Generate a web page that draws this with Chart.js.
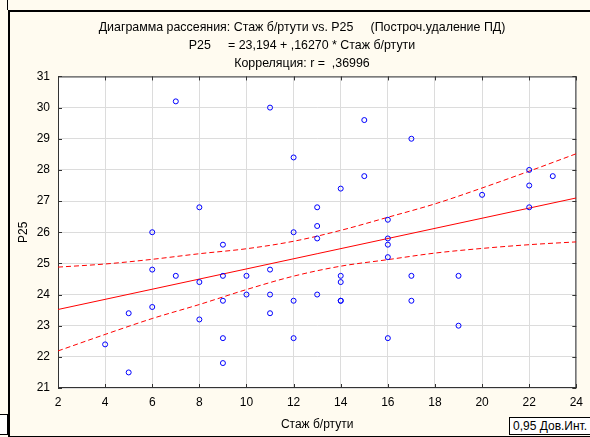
<!DOCTYPE html>
<html>
<head>
<meta charset="utf-8">
<script src="https://cdn.jsdelivr.net/npm/chart.js@4.4.0/dist/chart.umd.min.js"></script>
<style>
  body { margin: 0; background: #FFFBF0; width: 590px; height: 437px; overflow: hidden; position: relative; font-family: 'Liberation Sans', Arial, sans-serif; }
  #frame { position: absolute; left: 8px; top: 10px; width: 600px; height: 424px; border-left: 2px solid #000; border-top: 2px solid #000; border-bottom: 2px solid #000; }
  #stub_top { position: absolute; left: 7px; top: 0; width: 1px; height: 10px; background: #000; }
  #stub_bottom { position: absolute; left: -1px; top: 414px; width: 7px; height: 19px; border: 1px solid #000; background: #fff; }
  #myChart { position: absolute; left: 0; top: 0; }
  #legend_box { position: absolute; left: 509px; top: 417px; width: 90px; height: 16px; border: 1px solid #000; background: #fff; font-size: 12px; line-height: 16px; padding-left: 3px; color: #000; }
</style>
</head>
<body>
<div id="frame"></div>
<div id="stub_top"></div>
<div id="stub_bottom"></div>
<canvas id="myChart" width="590" height="437"></canvas>
<div id="legend_box">0,95 Дов.Инт.</div>
<script>
// Стаж б/ртути (x) и P25 (y)
var stazh = [4, 5, 5, 6, 6, 6, 7, 7, 8, 8, 8, 9, 9, 9, 9, 9, 10, 10, 11, 11, 11, 11, 12, 12, 12, 12,
  13, 13, 13, 13, 14, 14, 14, 14, 14, 15, 15, 16, 16, 16, 16, 16, 17, 17, 17, 19, 19, 20, 22, 22, 22, 23];
var p25 = [22.4, 23.4, 21.5, 26.0, 24.8, 23.6, 30.2, 24.6, 26.8, 24.4, 23.2, 25.6, 24.6, 23.8, 22.6, 21.8, 24.6, 24.0, 30.0, 24.8, 24.0, 23.4, 28.4, 26.0, 23.8, 22.6,
  26.8, 26.2, 25.8, 24.0, 27.4, 24.6, 24.4, 23.8, 23.8, 29.6, 27.8, 26.4, 25.8, 25.6, 25.2, 22.6, 29.0, 24.6, 23.8, 24.6, 23.0, 27.2, 28.0, 27.5, 26.8, 27.8];

// линия регрессии (концы)
var fitX = [2, 24];
var fitY = [23.52, 27.10];

// 0,95 дов. интервал
var bandX = [2, 4, 6, 8, 10, 12, 14, 16, 18, 20, 22, 24];
var bandUpper = [24.88, 24.98, 25.13, 25.31, 25.47, 25.71, 26.06, 26.48, 26.91, 27.42, 27.96, 28.52];
var bandLower = [22.19, 22.72, 23.23, 23.68, 24.16, 24.59, 24.91, 25.12, 25.33, 25.48, 25.60, 25.69];

var xTicks = [2, 4, 6, 8, 10, 12, 14, 16, 18, 20, 22, 24];
var yTicks = [21, 22, 23, 24, 25, 26, 27, 28, 29, 30, 31];

var titleLines = [
  'Диаграмма рассеяния: Стаж б/ртути vs. P25     (Построч.удаление ПД)',
  'P25     = 23,194 + ,16270 * Стаж б/ртути',
  'Корреляция: r =  ,36996'
];

function pairs(xs, ys) {
  return xs.map(function (x, i) { return {x: x, y: ys[i]}; });
}

//Hintergrund + Rahmen der Plotfläche
var plotFrame = {
  id: 'plotFrame',
  afterLayout: function (chart) {
    // Titel etwas nach rechts, wie im Original
    chart.titleBlock.left = 14;
    chart.titleBlock.right = 590;
  },
  beforeDraw: function (chart) {
    var a = chart.chartArea, ctx = chart.ctx;
    ctx.save();
    ctx.fillStyle = '#ffffff';
    ctx.fillRect(a.left, a.top, a.right - a.left, a.bottom - a.top);
    ctx.restore();
  },
  beforeDatasetsDraw: function (chart) {
    var a = chart.chartArea, ctx = chart.ctx;
    var sx = chart.scales.x, sy = chart.scales.y;
    ctx.save();
    ctx.strokeStyle = '#333333';
    ctx.lineWidth = 1;
    ctx.strokeRect(a.left + 0.5, a.top + 0.5, a.right - a.left - 1, a.bottom - a.top - 1);
    ctx.beginPath();
    xTicks.forEach(function (t) {
      var px = Math.round(sx.getPixelForValue(t)) + 0.5;
      ctx.moveTo(px, a.top); ctx.lineTo(px, a.top + 4);
      ctx.moveTo(px, a.bottom); ctx.lineTo(px, a.bottom - 4);
    });
    yTicks.forEach(function (t) {
      var py = Math.round(sy.getPixelForValue(t)) + 0.5;
      ctx.moveTo(a.left, py); ctx.lineTo(a.left + 4, py);
      ctx.moveTo(a.right, py); ctx.lineTo(a.right - 4, py);
    });
    ctx.stroke();
    ctx.restore();
  }
};

Chart.defaults.font.family = "'Liberation Sans', Arial, sans-serif";
Chart.defaults.font.size = 12;
Chart.defaults.color = '#000000';

var ctx = document.getElementById('myChart').getContext('2d');
var myChart = new Chart(ctx, {
  type: 'scatter',
  data: {
    datasets: [{
      data: pairs(stazh, p25),
      pointStyle: 'circle',
      pointRadius: 2.5,
      pointBorderWidth: 1,
      borderColor: '#0000FF',
      backgroundColor: 'rgba(0,0,0,0)',
      order: 0
    }, {
      type: 'line',
      data: pairs(fitX, fitY),
      borderColor: '#FF0000',
      borderWidth: 1,
      pointRadius: 0,
      order: 1
    }, {
      type: 'line',
      data: pairs(bandX, bandUpper),
      borderColor: '#FF0000',
      borderWidth: 1,
      borderDash: [5, 3],
      pointRadius: 0,
      cubicInterpolationMode: 'monotone',
      order: 2
    }, {
      type: 'line',
      data: pairs(bandX, bandLower),
      borderColor: '#FF0000',
      borderWidth: 1,
      borderDash: [5, 3],
      pointRadius: 0,
      cubicInterpolationMode: 'monotone',
      order: 3
    }]
  },
  options: {
    responsive: false,
    animation: false,
    layout: { padding: { left: 0, right: 11, top: 0, bottom: 0 } },
    plugins: {
      legend: { display: false },
      tooltip: { enabled: false },
      title: {
        display: true,
        text: titleLines,
        color: '#000000',
        font: { size: 12.4, weight: 'normal', lineHeight: 1.45 },
        padding: { top: 19, bottom: 3.5 }
      }
    },
    scales: {
      x: {
        type: 'linear',
        min: 2,
        max: 24,
        afterFit: function (scale) { scale.height = 49; },
        afterBuildTicks: function (scale) { scale.ticks = xTicks.map(function (v) { return {value: v}; }); },
        ticks: { padding: 7, color: '#000000', callback: function (v) { return v; } },
        grid: { color: '#dcdcdc', drawTicks: false },
        border: { display: false },
        title: {
          display: true,
          text: 'Стаж б/ртути',
          color: '#000000',
          padding: { top: 0, bottom: 5 }
        }
      },
      y: {
        type: 'linear',
        min: 21,
        max: 31,
        afterFit: function (scale) { scale.width = 58; },
        afterBuildTicks: function (scale) { scale.ticks = yTicks.map(function (v) { return {value: v}; }); },
        ticks: { padding: 8, color: '#000000', callback: function (v) { return v; } },
        grid: { color: '#dcdcdc', drawTicks: false },
        border: { display: false },
        title: {
          display: true,
          text: 'P25',
          color: '#000000',
          padding: { top: 16, bottom: 0 }
        }
      }
    }
  },
  plugins: [plotFrame]
});
</script>
</body>
</html>
